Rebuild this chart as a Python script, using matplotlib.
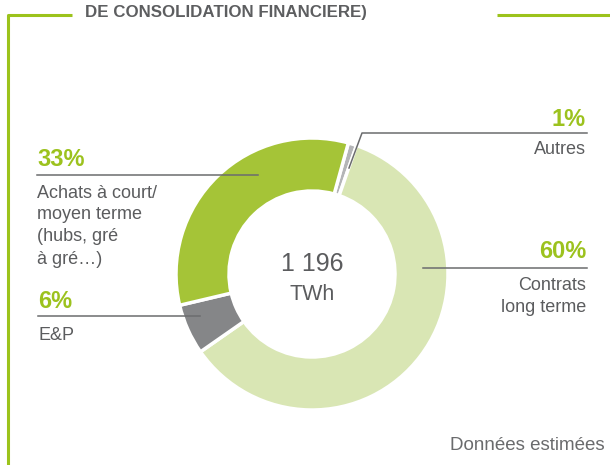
import matplotlib.pyplot as plt

# données (part des approvisionnements, %)
labels = ['Autres', 'Contrats long terme', 'E&P', 'Achats à court/moyen terme']
shares = [1, 60, 6, 33]
pct_labels = ['1%', '60%', '6%', '33%']
total_txt = '1 196'
unit_txt = 'TWh'

colors = ['#b4b5b7', '#d9e6b4', '#858688', '#a5c437']
GREEN = '#9cc21e'
GREY_TXT = '#5b5c5e'
GREY_LINE = '#6b6c6e'

plt.rcParams['font.family'] = ['Liberation Sans', 'DejaVu Sans']

W, H = 610, 465
fig = plt.figure(figsize=(W / 100, H / 100), dpi=100)
ax = fig.add_axes([0, 0, 1, 1])

def Y(y):
    # coordonnées pixel (origine en haut) -> données
    return H - y

cx, cy = 312, 274
R, r_in = 136, 83
ax.pie(shares, colors=colors, startangle=74.5, counterclock=False,
       center=(cx, Y(cy)), radius=R,
       wedgeprops=dict(width=R - r_in, edgecolor='white', linewidth=2.5))

ax.set_xlim(0, W)
ax.set_ylim(0, H)
ax.set_aspect('equal')
ax.axis('off')

# cadre vert
ax.plot([72, 7.5, 7.5], [Y(15), Y(15), 0], color='#9cc31c', lw=2.2, solid_capstyle='butt')
ax.plot([497, W], [Y(15), Y(15)], color='#9cc31c', lw=2.2, solid_capstyle='butt')

# titre (coupé en haut)
ax.text(85, Y(17), 'DE CONSOLIDATION FINANCIERE)', weight='bold',
        fontsize=12.2, color='#5d5e60', ha='left', va='baseline')

# centre
ax.text(cx, Y(264), total_txt, fontsize=18, color=GREY_TXT, ha='center', va='center')
ax.text(cx, Y(294), unit_txt, fontsize=15.5, color=GREY_TXT, ha='center', va='center')

# lignes de rappel
lc = dict(color=GREY_LINE, lw=1.1)
ax.plot([349, 362, 587], [Y(168), Y(133), Y(133)], **lc)
ax.plot([423, 587], [Y(268), Y(268)], **lc)
ax.plot([37, 258], [Y(175), Y(175)], **lc)
ax.plot([38, 200], [Y(316), Y(316)], **lc)

pc = dict(fontsize=17, weight='bold', color=GREEN, va='center')
tc = dict(fontsize=13, color=GREY_TXT, va='center')

# Autres
ax.text(586, Y(120), pct_labels[0], ha='right', **pc)
ax.text(586, Y(150), 'Autres', ha='right', **tc)
# Contrats long terme
ax.text(586, Y(252), pct_labels[1], ha='right', **pc)
ax.text(586, Y(285), 'Contrats', ha='right', **tc)
ax.text(586, Y(307), 'long terme', ha='right', **tc)
# Achats
ax.text(37, Y(160), pct_labels[3], ha='left', **pc)
for i, line in enumerate(['Achats à court/', 'moyen terme', '(hubs, gré', 'à gré…)']):
    ax.text(37, Y(193 + 22 * i), line, ha='left', **tc)
# E&P
ax.text(38, Y(301), pct_labels[2], ha='left', **pc)
ax.text(38, Y(335), 'E&P', ha='left', **tc)

ax.text(605, Y(446), 'Données estimées', ha='right', va='center', fontsize=13.5, color='#6a6b6d')

fig.savefig('out.png', dpi=100)
